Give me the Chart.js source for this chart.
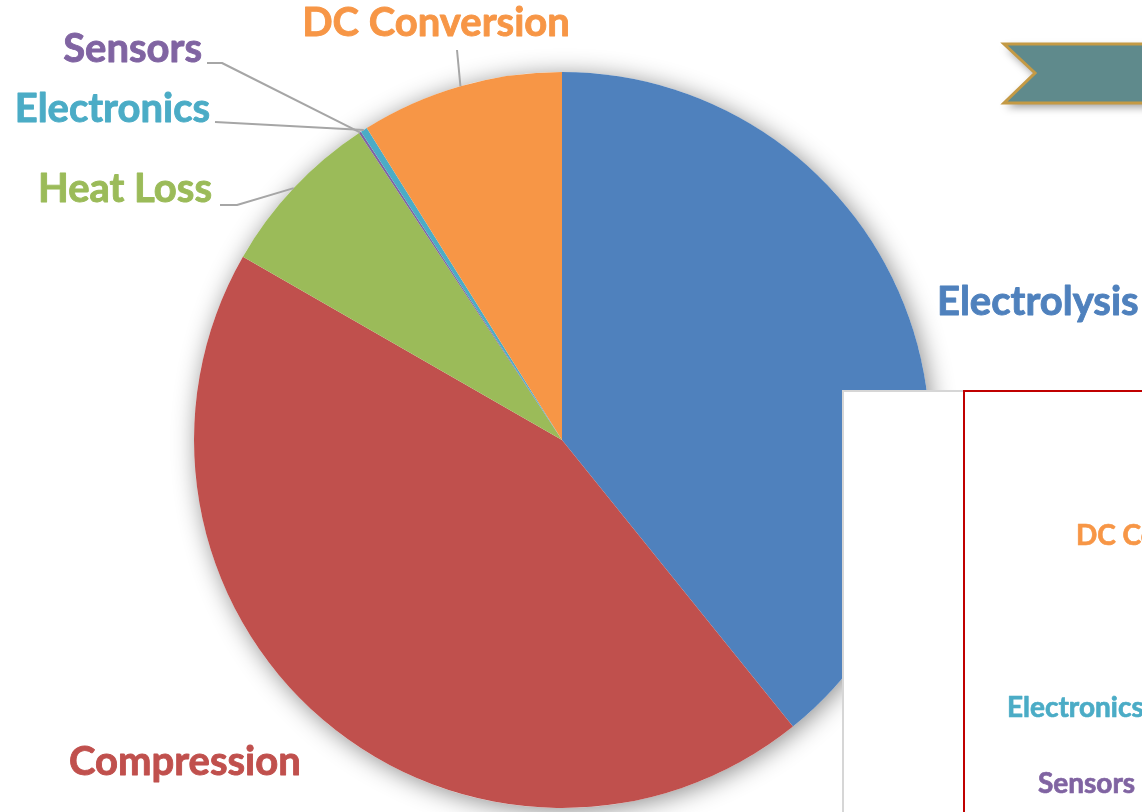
<!DOCTYPE html>
<html>
<head>
<meta charset="utf-8">
<script src="https://cdn.jsdelivr.net/npm/chart.js@4.4.0/dist/chart.umd.min.js"></script>
<style>
  html, body { margin: 0; padding: 0; background: #fff; overflow: hidden; }
  #wrap { position: relative; width: 1142px; height: 812px; }
</style>
</head>
<body>
<div id="wrap"><canvas id="energyPie" width="1142" height="812"></canvas></div>
<script>
// energy use split by stage (percent of total)
var categories = ["Electrolysis", "Compression", "Heat Loss", "Sensors", "Electronics", "DC Conversion"];
var shares = [39.2, 44.1, 7.4, 0.1, 0.3, 8.9];
var sliceColors = ["#4F81BD", "#C0504D", "#9BBB59", "#8064A2", "#4BACC6", "#F79646"];

// where each slice label sits, plus the elbow points of its leader line
var labelSpots = [
    { x: 937, y: 315, align: "left" },
    { x: 69,  y: 775, align: "left" },
    { x: 212, y: 202, align: "right", line: [[220, 205], [237, 205]] },
    { x: 202, y: 62,  align: "right", line: [[207, 63], [222, 63]] },
    { x: 210, y: 122, align: "right", line: [[215, 122]] },
    { x: 436, y: 36,  align: "center", line: [[457, 50]] }
];

// labels of the second panel on the right (cut off by the page edge)
var panelLabels = [
    { idx: 5, x: 1076, y: 545 },
    { idx: 4, x: 1007, y: 717 },
    { idx: 3, x: 1038, y: 793 }
];

var LABEL_FONT = "bold 40px Lato";
var PANEL_FONT = "bold 28px Lato";

// bold text with a thin outline in the same colour so it reads heavier
function heavyText(ctx, text, x, y, color, weight) {
    ctx.fillStyle = color;
    ctx.strokeStyle = color;
    ctx.lineWidth = weight;
    ctx.lineJoin = "round";
    ctx.fillText(text, x, y);
    ctx.strokeText(text, x, y);
}

// soft drop shadow behind the whole pie
var pieShadow = {
    id: "pieShadow",
    beforeDatasetsDraw: function(chart) {
        var arc = chart.getDatasetMeta(0).data[0];
        if (!arc) return;
        var ctx = chart.ctx;
        ctx.save();
        ctx.shadowColor = "rgba(0,0,0,0.45)";
        ctx.shadowBlur = 24;
        ctx.shadowOffsetX = 3;
        ctx.shadowOffsetY = 3;
        ctx.fillStyle = "#fff";
        ctx.beginPath();
        ctx.arc(arc.x, arc.y, arc.outerRadius, 0, Math.PI * 2);
        ctx.fill();
        ctx.restore();
    }
};

// slice labels with grey leader lines
var sliceLabels = {
    id: "sliceLabels",
    afterDatasetsDraw: function(chart) {
        var ctx = chart.ctx;
        var arcs = chart.getDatasetMeta(0).data;
        ctx.save();
        arcs.forEach(function(arc, i) {
            var spot = labelSpots[i];
            if (spot.line) {
                var mid = (arc.startAngle + arc.endAngle) / 2;
                var ex = arc.x + arc.outerRadius * Math.cos(mid);
                var ey = arc.y + arc.outerRadius * Math.sin(mid);
                ctx.strokeStyle = "#A6A6A6";
                ctx.lineWidth = 2;
                ctx.beginPath();
                ctx.moveTo(spot.line[0][0], spot.line[0][1]);
                for (var k = 1; k < spot.line.length; k++) ctx.lineTo(spot.line[k][0], spot.line[k][1]);
                ctx.lineTo(ex, ey);
                ctx.stroke();
            }
            ctx.font = LABEL_FONT;
            ctx.textAlign = spot.align;
            ctx.textBaseline = "alphabetic";
            heavyText(ctx, categories[i], spot.x, spot.y, sliceColors[i], 0.9);
        });
        ctx.restore();
    }
};

// ribbon banner and the overlapping panels on the right
var overlays = {
    id: "overlays",
    afterDraw: function(chart) {
        var ctx = chart.ctx;
        ctx.save();

        // banner
        ctx.shadowColor = "rgba(0,0,0,0.4)";
        ctx.shadowBlur = 8;
        ctx.shadowOffsetX = 2;
        ctx.shadowOffsetY = 4;
        ctx.beginPath();
        ctx.moveTo(1004, 44);
        ctx.lineTo(1160, 44);
        ctx.lineTo(1160, 103);
        ctx.lineTo(1004, 103);
        ctx.lineTo(1035, 73);
        ctx.closePath();
        ctx.fillStyle = "#5F8A8C";
        ctx.fill();
        ctx.shadowColor = "transparent";
        ctx.lineWidth = 3;
        ctx.strokeStyle = "#C49A45";
        ctx.stroke();

        // white card
        ctx.fillStyle = "#fff";
        ctx.fillRect(843, 390, 320, 430);
        ctx.strokeStyle = "#D6D6D6";
        ctx.lineWidth = 2;
        ctx.beginPath();
        ctx.moveTo(843, 820);
        ctx.lineTo(843, 391);
        ctx.lineTo(964, 391);
        ctx.stroke();

        // red framed panel
        ctx.strokeStyle = "#C00000";
        ctx.lineWidth = 2;
        ctx.strokeRect(964, 391, 300, 440);

        ctx.font = PANEL_FONT;
        ctx.textAlign = "left";
        ctx.textBaseline = "alphabetic";
        panelLabels.forEach(function(p) {
            heavyText(ctx, categories[p.idx], p.x, p.y, sliceColors[p.idx], 0.7);
        });
        ctx.restore();
    }
};

var ctx = document.getElementById("energyPie");
var pie = new Chart(ctx, {
    type: "pie",
    data: {
        labels: categories,
        datasets: [{
            data: shares,
            backgroundColor: sliceColors,
            borderWidth: 0
        }]
    },
    options: {
        responsive: false,
        animation: false,
        devicePixelRatio: 1,
        layout: { padding: { left: 194, right: 212, top: 72, bottom: 4 } },
        plugins: {
            legend: { display: false },
            tooltip: { enabled: false }
        }
    },
    plugins: [pieShadow, sliceLabels, overlays]
});
</script>
</body>
</html>
